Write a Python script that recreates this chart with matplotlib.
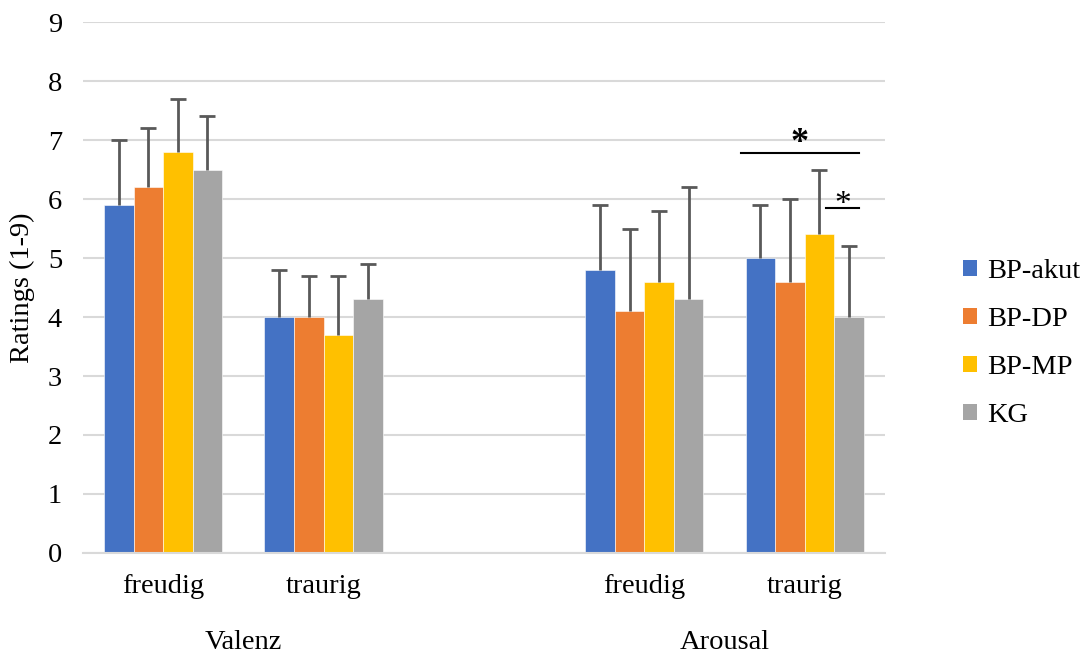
import numpy as np
import matplotlib.pyplot as plt
from matplotlib.patches import Patch
from matplotlib.transforms import blended_transform_factory

plt.rcParams['font.family'] = ['Liberation Serif', 'DejaVu Serif']

# data
categories = ['freudig', 'traurig', 'freudig', 'traurig']
groups = ['Valenz', 'Arousal']
methods = ['BP-akut', 'BP-DP', 'BP-MP', 'KG']
colors = ['#4472C4', '#ED7D31', '#FFC000', '#A5A5A5']

bp_akut = [5.9, 4.0, 4.8, 5.0]
bp_dp = [6.2, 4.0, 4.1, 4.6]
bp_mp = [6.8, 3.7, 4.6, 5.4]
kg = [6.5, 4.3, 4.3, 4.0]

err_akut = [1.1, 0.8, 1.1, 0.9]
err_dp = [1.0, 0.7, 1.4, 1.4]
err_mp = [0.9, 1.0, 1.2, 1.1]
err_kg = [0.9, 0.6, 1.9, 1.2]

values = [bp_akut, bp_dp, bp_mp, kg]
errors = [err_akut, err_dp, err_mp, err_kg]

# slot positions, empty slot between the two groups
x_pos = np.array([0, 1, 3, 4])
bar_w = 0.184
fs = 20.5

fig = plt.figure(figsize=(10.83, 6.57), dpi=100)
ax = fig.add_axes([0.0766, 0.1583, 0.7404, 0.8082])

for i, m in enumerate(methods):
    xs = x_pos + (i - 1.5) * bar_w
    ax.bar(xs, values[i], width=bar_w, color=colors[i], label=m, zorder=2,
           edgecolor='white', linewidth=0.4)
    eb = ax.errorbar(xs, values[i], yerr=[np.zeros(4), errors[i]], fmt='none',
                     ecolor='#595959', elinewidth=2, capsize=6, capthick=2, zorder=3)
    # only keep the upper caps
    for cap in eb[1]:
        if np.allclose(cap.get_ydata(), values[i]):
            cap.set_visible(False)

ax.set_xlim(-0.5, 4.5)
ax.set_ylim(0, 9)
ax.set_yticks(range(0, 10))
ax.yaxis.grid(True, color='#D9D9D9', linewidth=1.5, zorder=0)
ax.set_axisbelow(True)
for s in ['top', 'right', 'left']:
    ax.spines[s].set_visible(False)
ax.spines['bottom'].set_color('#D9D9D9')
ax.spines['bottom'].set_linewidth(1.5)
ax.tick_params(axis='both', length=0, labelsize=fs)
ax.tick_params(axis='x', pad=15)
ax.tick_params(axis='y', pad=15)
ax.set_xticks(x_pos)
ax.set_xticklabels(categories)
ax.set_ylabel('Ratings (1-9)', fontsize=fs, labelpad=9)

# group labels
trans = blended_transform_factory(ax.transData, ax.transAxes)
ax.text(0.5, -0.168, groups[0], transform=trans, ha='center', va='center', fontsize=fs)
ax.text(3.5, -0.168, groups[1], transform=trans, ha='center', va='center', fontsize=fs)

# significance markers (Arousal traurig)
ax.plot([4 - 0.394, 4 + 0.3375], [6.78, 6.78], color='black', linewidth=1.5, zorder=4)
ax.text(4 - 0.03, 6.66, '*', ha='center', va='bottom', fontsize=26, fontweight='bold')
ax.plot([4 + 0.131, 4 + 0.3375], [5.85, 5.85], color='black', linewidth=1.5, zorder=4)
ax.text(4 + 0.235, 5.64, '*', ha='center', va='bottom', fontsize=24)

handles = [Patch(facecolor=c, label=m) for c, m in zip(colors, methods)]
fig.legend(handles=handles, loc='center left', bbox_to_anchor=(0.889, 0.477),
           frameon=False, fontsize=fs, handlelength=0.5, handleheight=0.5,
           handletextpad=0.35, labelspacing=0.8, borderpad=0, borderaxespad=0)

fig.savefig('out.png', dpi=100)
